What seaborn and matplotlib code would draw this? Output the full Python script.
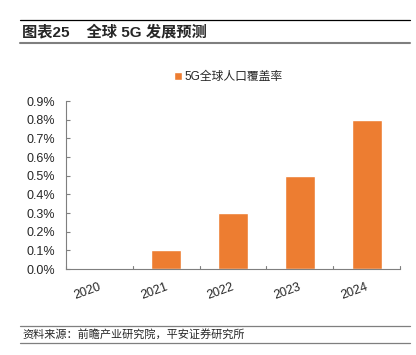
import matplotlib
matplotlib.use("Agg")
import matplotlib.pyplot as plt
import matplotlib.transforms as mtransforms
import seaborn as sns
import pandas as pd
from matplotlib.lines import Line2D
from matplotlib.ticker import FuncFormatter, MultipleLocator

years = ["2020", "2021", "2022", "2023", "2024"]
coverage = [0.0, 0.1, 0.3, 0.5, 0.8]
series_name = "5G全球人口覆盖率"
title = "图表25    全球 5G 发展预测"
source = "资料来源：前瞻产业研究院，平安证券研究所"

sns.set_style("white")
plt.rcParams['font.family'] = ['Liberation Sans', 'Noto Sans CJK SC', 'DejaVu Sans']

W, H = 416, 355
fig = plt.figure(figsize=(W / 100, H / 100), dpi=100)
ax = fig.add_axes([66 / W, 1 - 269 / H, (400 - 66) / W, (269 - 101) / H])

df = pd.DataFrame({"year": years, "value": coverage})
sns.barplot(data=df, x="year", y="value", color="#ED7D31", saturation=1,
            width=0.45, ax=ax, label=series_name)

ax.set_ylim(0, 0.9)
ax.set_xlim(-0.5, 4.5)
ax.yaxis.set_major_locator(MultipleLocator(0.1))
ax.yaxis.set_major_formatter(FuncFormatter(lambda v, p: f"{v:.1f}%"))
ax.set_xlabel("")
ax.set_ylabel("")
for s in ["top", "right"]:
    ax.spines[s].set_visible(False)
for s in ["left", "bottom"]:
    ax.spines[s].set_color("#7f7f7f")
    ax.spines[s].set_linewidth(0.8)

ax.tick_params(axis="y", direction="in", length=3, color="#7f7f7f", labelsize=9, pad=8, left=True)
ax.set_xticks(range(len(years)))
ax.set_xticklabels(years, rotation=20, fontsize=9, ha="right")
ax.tick_params(axis="x", length=0, pad=8.5)
shift = mtransforms.ScaledTranslation(3 / 100, 0, fig.dpi_scale_trans)
for lbl in ax.get_xticklabels():
    lbl.set_transform(lbl.get_transform() + shift)
# category boundary ticks
for b in [x - 0.5 for x in range(len(years) + 1)]:
    ax.plot([b, b], [0, 0.018], color="#7f7f7f", lw=0.8, clip_on=False)

leg = ax.legend(loc="upper center", bbox_to_anchor=(0.485, 1.24), frameon=False,
                fontsize=8.5, handlelength=0.7, handleheight=0.7, handletextpad=0.2)

# header lines and title
fig.add_artist(Line2D([20 / W, 410 / W], [1 - 20 / H, 1 - 20 / H], color="black", lw=0.9))
fig.add_artist(Line2D([20 / W, 410 / W], [1 - 43 / H, 1 - 43 / H], color="#7f7f7f", lw=1.5))
fig.text(22 / W, 1 - 32 / H, title, fontsize=11, fontweight="bold", va="center",
         family=['Liberation Sans', 'Noto Sans CJK SC'])

# footer
fig.add_artist(Line2D([20 / W, 410 / W], [1 - 326 / H, 1 - 326 / H], color="#7f7f7f", lw=0.9))
fig.add_artist(Line2D([20 / W, 410 / W], [1 - 343 / H, 1 - 343 / H], color="#7f7f7f", lw=0.9))
fig.text(22 / W, 1 - 334.5 / H, source, fontsize=8, style="italic", va="center",
         family=['Noto Sans CJK SC'])

fig.savefig("out.png", dpi=100)
